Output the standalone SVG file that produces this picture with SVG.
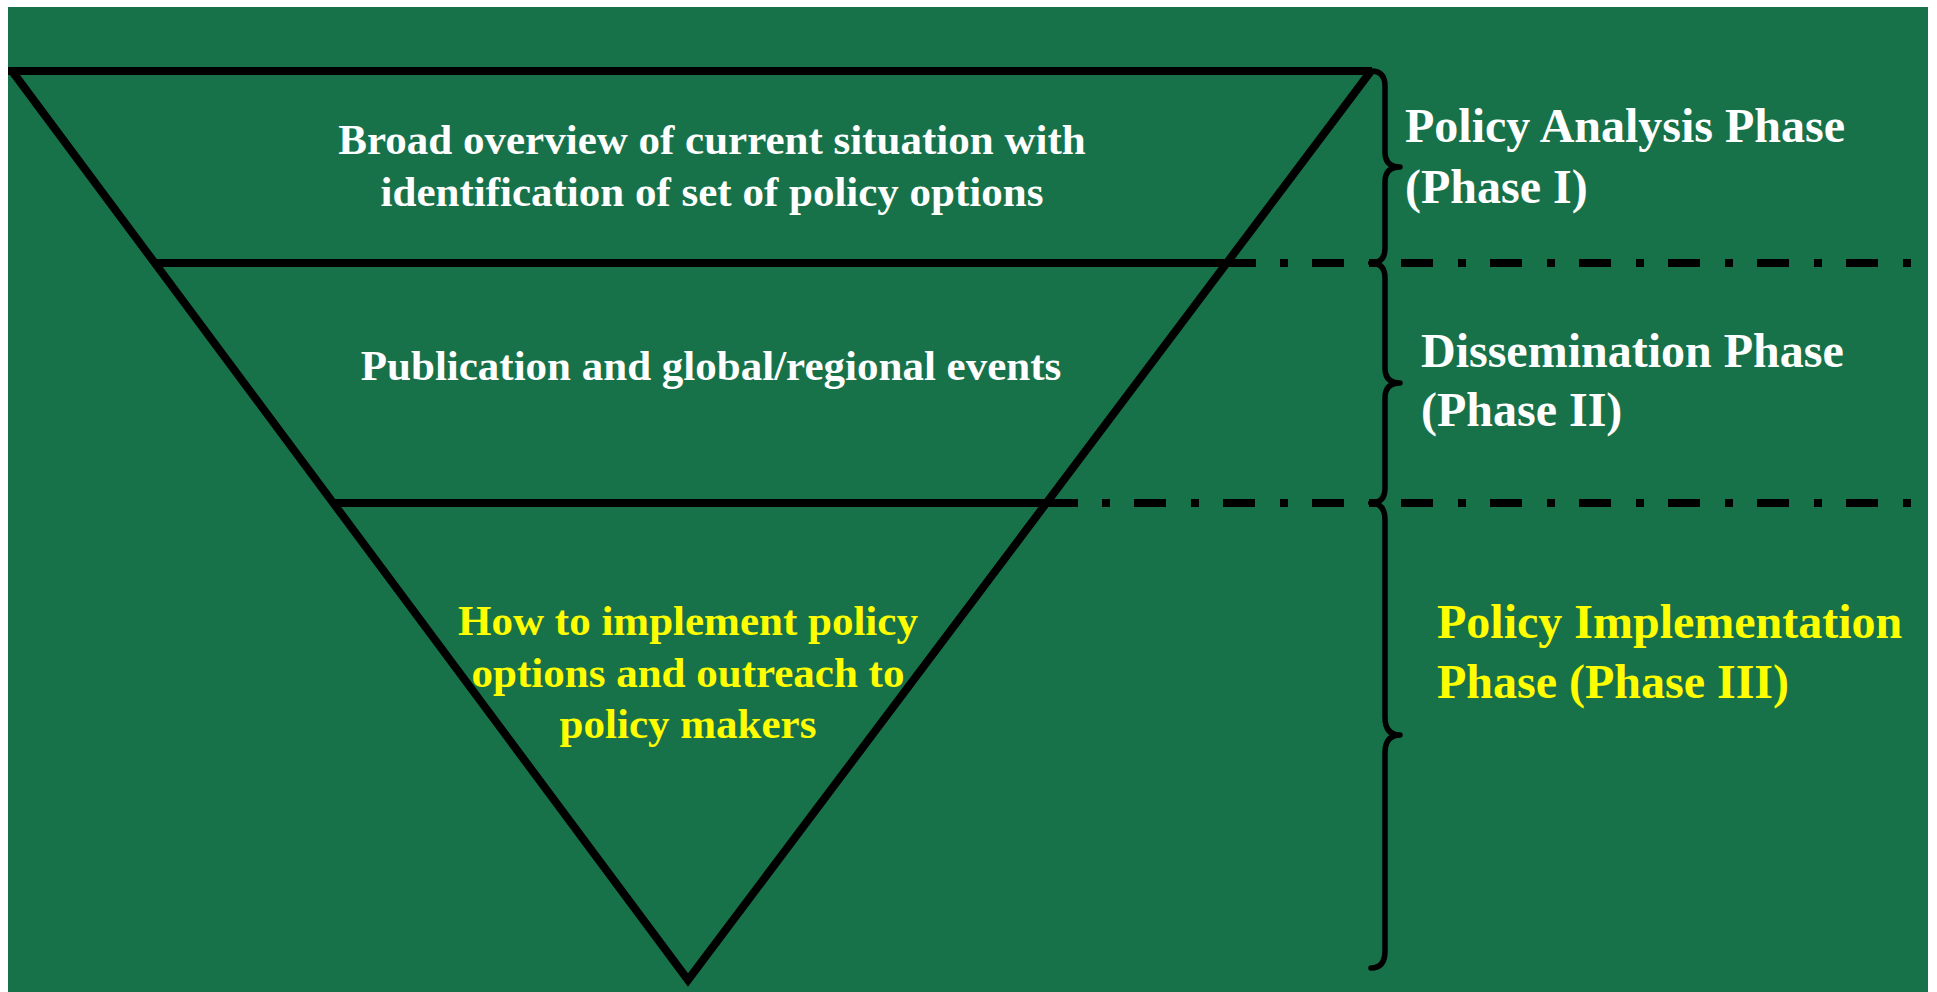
<svg xmlns="http://www.w3.org/2000/svg" width="1937" height="992" viewBox="0 0 1937 992">
  <style>
    .ln { fill: none; stroke: #000; stroke-width: 8; }
    .dd { fill: none; stroke: #000; stroke-width: 8; stroke-dasharray: 8 24 32 25; }
    .br { fill: none; stroke: #000; stroke-width: 5.5; stroke-linecap: round; stroke-linejoin: round; }
    .t { font-family: "Liberation Serif", "Times New Roman", serif; font-weight: bold; }
    .w { fill: #ffffff; font-size: 43px; text-anchor: middle; }
    .y { fill: #ffff00; font-size: 43px; text-anchor: middle; }
    .lw { fill: #ffffff; font-size: 48px; }
    .ly { fill: #ffff00; font-size: 48px; }
  </style>
  <rect x="0" y="0" width="1937" height="992" fill="#ffffff"/>
  <rect x="8" y="7" width="1920" height="985" fill="#187249"/>

  <g id="connectors">
    <path class="ln" d="M 8 71 H 1372"/>
    <path class="ln" stroke-linejoin="miter" d="M 12 71 L 688 980 L 1371 71"/>
    <path class="ln" d="M 155 263 H 1256"/>
    <path class="dd" d="M 1280 263 H 1912"/>
    <path class="ln" d="M 334 503 H 1078"/>
    <path class="dd" d="M 1102 503 H 1912"/>
  </g>

  <g id="brace1">
    <path class="br" d="M 1371 71 Q 1385 71 1385 86 L 1385 152 Q 1385 167 1400 167 Q 1385 167 1385 182 L 1385 248 Q 1385 263 1371 263"/>
  </g>
  <g id="brace2">
    <path class="br" d="M 1371 263 Q 1385 263 1385 278 L 1385 368 Q 1385 383 1400 383 Q 1385 383 1385 398 L 1385 488 Q 1385 503 1371 503"/>
  </g>
  <g id="brace3">
    <path class="br" d="M 1371 503 Q 1385 503 1385 520 L 1385 717 Q 1385 735 1400 735 Q 1385 735 1385 753 L 1385 951 Q 1385 968 1371 968"/>
  </g>

  <g id="tier1">
    <text class="t w" x="712" y="154">Broad overview of current situation with</text>
    <text class="t w" x="712" y="206">identification of set of policy options</text>
  </g>
  <g id="tier2">
    <text class="t w" x="711" y="380">Publication and global/regional events</text>
  </g>
  <g id="tier3">
    <text class="t y" x="688" y="635">How to implement policy</text>
    <text class="t y" x="688" y="687">options and outreach to</text>
    <text class="t y" x="688" y="738">policy makers</text>
  </g>

  <g id="phase1">
    <text class="t lw" x="1405" y="142">Policy Analysis Phase</text>
    <text class="t lw" x="1405" y="203">(Phase I)</text>
  </g>
  <g id="phase2">
    <text class="t lw" x="1421" y="367">Dissemination Phase</text>
    <text class="t lw" x="1421" y="426">(Phase II)</text>
  </g>
  <g id="phase3">
    <text class="t ly" x="1437" y="638">Policy Implementation</text>
    <text class="t ly" x="1437" y="698">Phase (Phase III)</text>
  </g>
</svg>
